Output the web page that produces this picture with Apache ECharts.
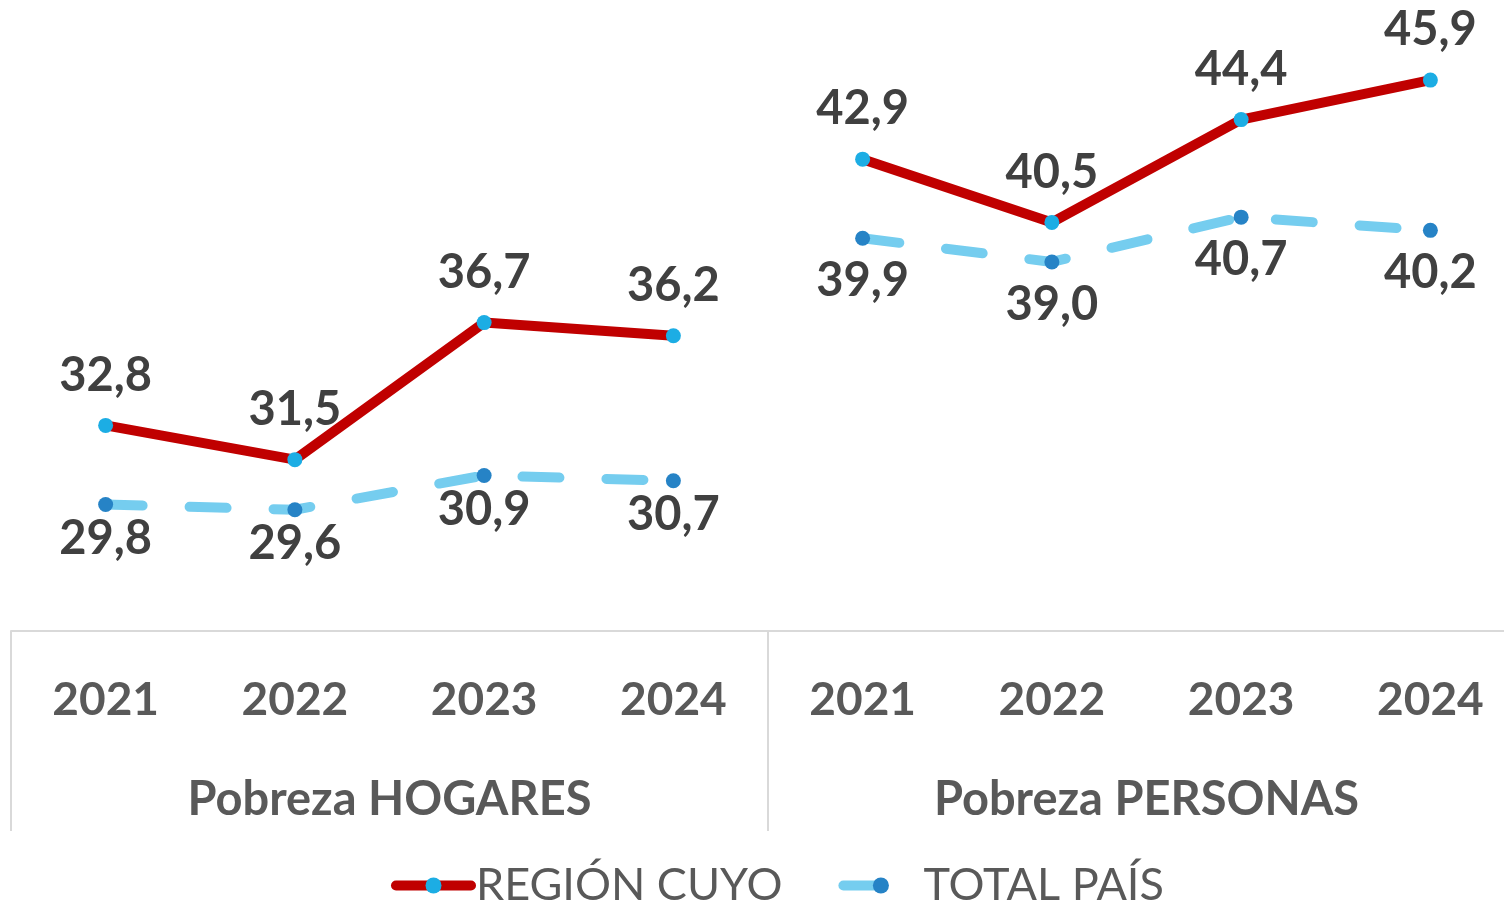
<!DOCTYPE html>
<html><head><meta charset="utf-8">
<script src="https://cdn.jsdelivr.net/npm/echarts@6/dist/echarts.min.js"></script>
<style>html,body{margin:0;padding:0;background:#fff}#c{width:1504px;height:906px}</style>
</head><body><div id="c"></div>
<script>
const years = ['2021','2022','2023','2024','2021','2022','2023','2024'];
const groups = ['Pobreza HOGARES','Pobreza PERSONAS'];
const seriesNames = ['REGIÓN CUYO','TOTAL PAÍS'];
const cuyoHogares = [32.8, 31.5, 36.7, 36.2, '-', '-', '-', '-'];
const cuyoPersonas = ['-', '-', '-', '-', 42.9, 40.5, 44.4, 45.9];
const paisHogares = [29.8, 29.6, 30.9, 30.7, '-', '-', '-', '-'];
const paisPersonas = ['-', '-', '-', '-', 39.9, 39.0, 40.7, 40.2];

const FONT = 'Lato, "Open Sans", sans-serif';
function fmtVal(p){ const v = Number(p.value); return v.toFixed(1).replace('.', ','); }

function cuyo(data){
  return {
    name: seriesNames[0], type: 'line', data: data, xAxisIndex: 0,
    symbol: 'circle', symbolSize: 15,
    lineStyle: { color: '#C00000', width: 10, cap: 'round', join: 'round' },
    itemStyle: { color: '#1CADE4' },
    label: { show: true, position: 'top', distance: 19, formatter: fmtVal,
      fontFamily: FONT, fontWeight: 'bold', fontSize: 47, color: '#404040' },
    z: 3
  };
}
function pais(data, dist){
  return {
    name: seriesNames[1], type: 'line', data: data, xAxisIndex: 0,
    symbol: 'circle', symbolSize: 15,
    lineStyle: { color: '#75CDEF', width: 10, type: [37, 47], cap: 'round', join: 'round' },
    itemStyle: { color: '#2683C6' },
    label: { show: true, position: 'bottom', distance: dist, formatter: fmtVal,
      fontFamily: FONT, fontWeight: 'bold', fontSize: 47, color: '#404040' },
    z: 2
  };
}

const chart = echarts.init(document.getElementById('c'), null, { renderer: 'canvas' });
chart.setOption({
  animation: false,
  backgroundColor: '#ffffff',
  grid: { left: 11, right: -21, top: -28, bottom: 275, containLabel: false, outerBoundsMode: 'none' },
  legend: {
    data: seriesNames, top: 858, left: 386, itemWidth: 75, itemHeight: 20, itemGap: 56,
    lineStyle: { width: 10, cap: 'round' },
    textStyle: { fontFamily: FONT, fontSize: 45, color: '#595959' }
  },
  xAxis: [
    { type: 'category', data: years, position: 'bottom', boundaryGap: true,
      axisLine: { show: true, lineStyle: { color: '#D9D9D9', width: 2 } },
      axisTick: { show: false },
      axisLabel: { margin: 46, fontFamily: FONT, fontWeight: 'bold', fontSize: 46, color: '#595959', interval: 0 },
      splitLine: { show: false } },
    { type: 'category', data: groups, position: 'bottom', boundaryGap: true,
      axisLine: { show: false },
      axisTick: { show: true, length: 200, lineStyle: { color: '#D9D9D9', width: 2 } },
      axisLabel: { margin: 145, fontFamily: FONT, fontWeight: 'bold', fontSize: 47, color: '#595959' },
      splitLine: { show: false } }
  ],
  yAxis: { type: 'value', min: 25, max: 50, show: false, splitLine: { show: false } },
  series: [ cuyo(cuyoHogares), cuyo(cuyoPersonas), pais(paisHogares, 3), pais(paisPersonas, 12) ]
});
</script></body></html>
